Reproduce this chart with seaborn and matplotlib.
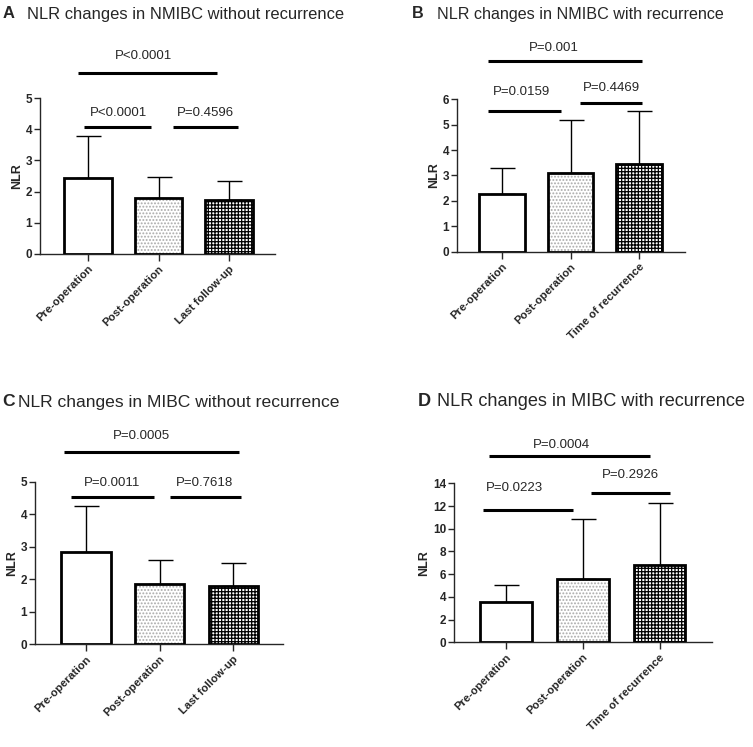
import matplotlib
matplotlib.use("Agg")
import matplotlib.pyplot as plt
import matplotlib.patches as mpatches
import pandas as pd
import seaborn as sns

# categories per panel
cats_without = ["Pre-operation", "Post-operation", "Last follow-up"]
cats_with = ["Pre-operation", "Post-operation", "Time of recurrence"]

# mean NLR and SD
means_a = [2.43, 1.78, 1.72]
sd_a = [1.35, 0.68, 0.63]
means_b = [2.26, 3.11, 3.45]
sd_b = [1.02, 2.08, 2.09]
means_c = [2.83, 1.85, 1.78]
sd_c = [1.43, 0.73, 0.73]
means_d = [3.57, 5.55, 6.80]
sd_d = [1.47, 5.30, 5.44]

# p-values: [first vs last, first vs second, second vs third]
pvals_a = ["P<0.0001", "P<0.0001", "P=0.4596"]
pvals_b = ["P=0.001", "P=0.0159", "P=0.4469"]
pvals_c = ["P=0.0005", "P=0.0011", "P=0.7618"]
pvals_d = ["P=0.0004", "P=0.0223", "P=0.2926"]

titles = [
    ("A", "NLR changes in NMIBC without recurrence"),
    ("B", "NLR changes in NMIBC with recurrence"),
    ("C", "NLR changes in MIBC without recurrence"),
    ("D", "NLR changes in MIBC with recurrence"),
]

sns.set_style("ticks")
plt.rcParams["font.family"] = ["Liberation Sans", "DejaVu Sans"]
plt.rcParams["hatch.linewidth"] = 0.9

W, H = 753, 747
fig = plt.figure(figsize=(W / 100, H / 100), dpi=100)


def px_axes(left, right, top, bottom):
    return fig.add_axes([left / W, 1 - bottom / H, (right - left) / W, (bottom - top) / H])


def draw_panel(ax, cats, means, sds, ymax, ystep, xlim, brackets, pvals):
    df = pd.DataFrame({"cond": cats, "NLR": means})
    sns.barplot(data=df, x="cond", y="NLR", hue="cond", palette=["white"] * 3,
                width=0.67, edgecolor="black", linewidth=2, legend=False, ax=ax, zorder=3)
    bars = list(ax.patches)
    xs = [p.get_x() + p.get_width() / 2 for p in bars]

    # light dotted fill for the second bar, checkerboard for the third
    bars[1].set_hatch(".....")
    bars[1].set_edgecolor("#aaaaaa")
    bars[1].set_linewidth(0)
    bars[2].set_hatch("+++++")
    p = bars[1]
    ax.add_patch(mpatches.Rectangle((p.get_x(), p.get_y()), p.get_width(), p.get_height(),
                                    fill=False, ec="black", lw=2, zorder=4))

    ax.errorbar(xs, means, yerr=[[0] * 3, sds], fmt="none", ecolor="black",
                elinewidth=1, capsize=9, capthick=1, zorder=2)

    ax.set_ylim(0, ymax)
    ax.set_xlim(*xlim)
    ax.set_yticks(range(0, ymax + 1, ystep))
    ax.set_xticks(xs)
    ax.set_xticklabels(cats, rotation=45, ha="right", rotation_mode="anchor",
                       fontsize=8.2, fontweight="bold")
    for lbl in ax.get_yticklabels():
        lbl.set_fontweight("bold")
        lbl.set_fontsize(8.5)
    ax.tick_params(axis="y", length=4, width=1, pad=1.5)
    ax.tick_params(axis="x", length=5, width=1, pad=2)
    ax.set_xlabel("")
    ax.set_ylabel("NLR", fontsize=9, fontweight="bold", labelpad=2)
    sns.despine(ax=ax)
    for s in ["left", "bottom"]:
        ax.spines[s].set_linewidth(1)

    for (x0, x1, yl, xt, yt), lab in zip(brackets, pvals):
        ax.plot([x0, x1], [yl, yl], color="black", lw=2.2, clip_on=False, solid_capstyle="butt")
        ax.text(xt, yt, lab, ha="center", va="center", fontsize=9.5, clip_on=False)


ax_a = px_axes(40, 275, 98, 254)
draw_panel(ax_a, cats_without, means_a, sd_a, 5, 1, (-0.68, 2.65),
           [(-0.14, 1.83, 5.79, 0.78, 6.35), (-0.06, 0.89, 4.06, 0.435, 4.53),
            (1.21, 2.12, 4.06, 1.67, 4.53)], pvals_a)

ax_b = px_axes(456.7, 685, 99.3, 251.7)
draw_panel(ax_b, cats_with, means_b, sd_b, 6, 1, (-0.66, 2.67),
           [(-0.2, 2.04, 7.52, 0.76, 8.03), (-0.2, 0.86, 5.54, 0.29, 6.3),
            (1.14, 2.04, 5.87, 1.59, 6.43)], pvals_b)

ax_c = px_axes(35, 282.7, 481.7, 644.3)
draw_panel(ax_c, cats_without, means_c, sd_c, 5, 1, (-0.69, 2.67),
           [(-0.29, 2.08, 5.91, 0.76, 6.39), (-0.2, 0.92, 4.54, 0.35, 4.95),
            (1.14, 2.1, 4.54, 1.61, 4.95)], pvals_c)

ax_d = px_axes(454, 711.7, 483.3, 642.3)
draw_panel(ax_d, cats_with, means_d, sd_d, 14, 2, (-0.68, 2.68),
           [(-0.23, 1.88, 16.43, 0.72, 17.37), (-0.3, 0.87, 11.65, 0.11, 13.56),
            (1.1, 2.14, 13.17, 1.62, 14.73)], pvals_d)

# panel titles (letter bold, text regular)
title_pos = [(3, 27, 14, 11.9), (412, 437, 14, 11.6), (2, 18, 402, 12.6), (418, 437, 402, 13.1)]
for (letter, text), (xl, xt, y, fs) in zip(titles, title_pos):
    fig.text(xl / W, 1 - y / H, letter, fontsize=fs, fontweight="bold", va="center")
    fig.text(xt / W, 1 - y / H, text, fontsize=fs, va="center")

fig.savefig("out.png", dpi=100)
